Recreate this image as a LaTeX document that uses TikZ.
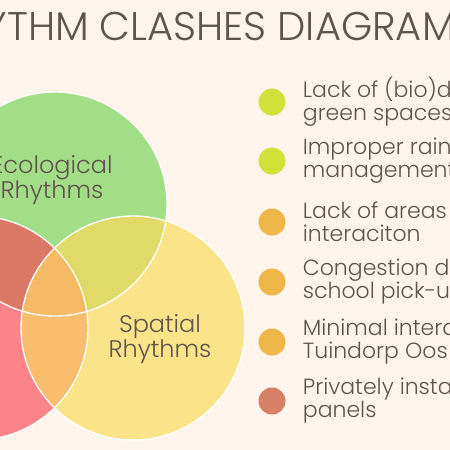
\documentclass[tikz,border=0pt]{standalone}
\usepackage{fontspec}
\setmainfont{Poppins}[UprightFont=* Light]
\usetikzlibrary{positioning}
\usepackage{xcolor}

\definecolor{bgcream}{HTML}{FDF4EC}
\definecolor{inkbrown}{HTML}{5F544C}
\definecolor{ecogreen}{HTML}{A2DE88}
\definecolor{spayellow}{HTML}{FBE38A}
\definecolor{socred}{HTML}{FB8489}
\definecolor{ecosoc}{HTML}{DC7866}
\definecolor{ecospa}{HTML}{E2DA68}
\definecolor{spasoc}{HTML}{F8BE6E}
\definecolor{allthree}{HTML}{F4BB64}
\definecolor{dotlime}{HTML}{D2E03A}
\definecolor{dotgold}{HTML}{EDB646}
\definecolor{dotrust}{HTML}{D68068}

\begin{document}
\begin{tikzpicture}[
    x=1pt, y=-1pt,
    title/.style={font=\fontsize{40}{42}\selectfont, text=inkbrown, inner sep=0pt},
    venn/.style={font=\fontsize{24}{23}\selectfont, text=inkbrown, align=center, inner sep=0pt},
    dot/.style={circle, minimum size=27pt, inner sep=0pt},
    item/.style={font=\fontsize{22}{23}\selectfont, text=inkbrown, align=left, inner sep=0pt}
]
\useasboundingbox (0,0) rectangle (450,450);
\clip (0,0) rectangle (450,450);
\fill[bgcream] (0,0) rectangle (450,450);

% Circles
\coordinate (eco) at (55,204);
\coordinate (spa) at (133,328);
\coordinate (soc) at (-24,328);
\fill[socred] (soc) circle[radius=112];
\fill[ecogreen] (eco) circle[radius=112];
\fill[spayellow] (spa) circle[radius=112];

% Overlaps
\begin{scope}
  \clip (spa) circle[radius=112];
  \fill[spasoc] (soc) circle[radius=112];
\end{scope}
\begin{scope}
  \clip (eco) circle[radius=112];
  \fill[ecosoc] (soc) circle[radius=112];
  \fill[ecospa] (spa) circle[radius=112];
  \clip (spa) circle[radius=112];
  \fill[allthree] (soc) circle[radius=112];
\end{scope}
\foreach \c in {eco,spa,soc}
  \draw[white, line width=1.3pt] (\c) circle[radius=112];

% Labels
\node[title, anchor=base west] (title) at (-66,40) {RHYTHM CLASHES DIAGRAM};
\node[venn] (ecolabel) at (52,180) {Ecological\\Rhythms};
\node[venn] (spalabel) at (160,339) {Spatial\\Rhythms};

% Legend
\foreach \i/\y/\c/\a/\b in {1/102/dotlime/{Lack of (bio)d}/{green spaces},
    2/161/dotlime/{Improper rain}/{management},
    3/222/dotgold/{Lack of areas}/{interaciton},
    4/282/dotgold/{Congestion d}/{school pick-u},
    5/342/dotgold/{Minimal intera}/{Tuindorp Oos},
    6/401/dotrust/{Privately insta}/{panels}} {
  \node[dot, fill=\c] (dot\i) at (272,\y) {};
  \node[item, right=17pt of dot\i] (item\i) {\a\\\b};
}
\end{tikzpicture}
\end{document}
